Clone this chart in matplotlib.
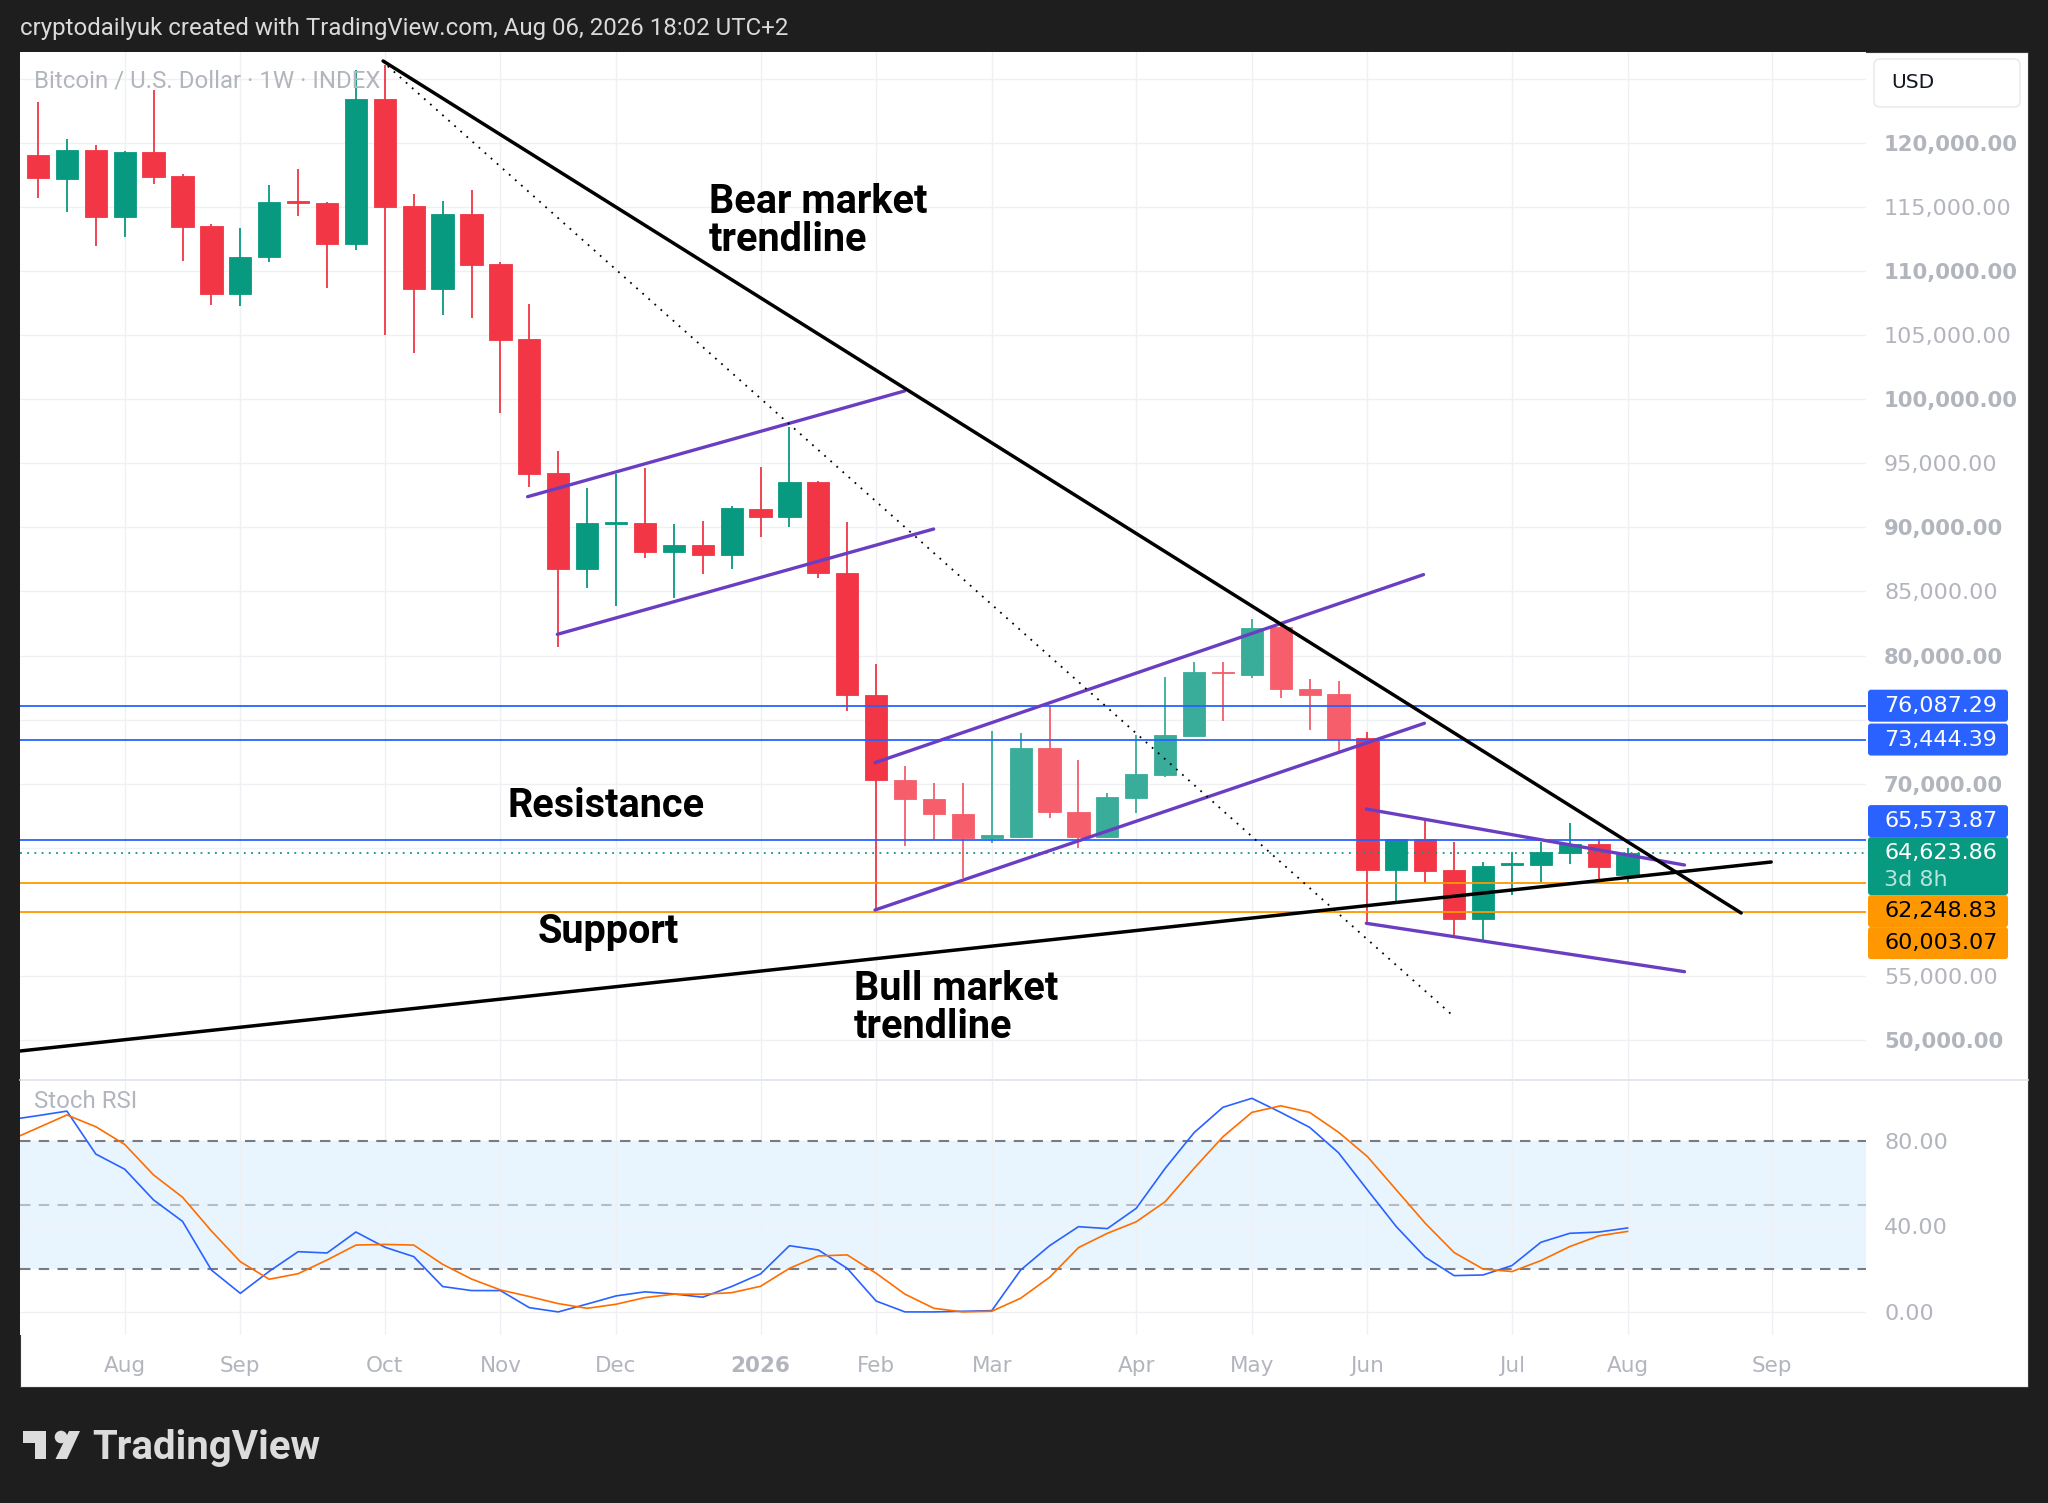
import matplotlib
matplotlib.use("Agg")
import matplotlib.pyplot as plt
import numpy as np
from matplotlib.patches import Rectangle, FancyBboxPatch, Circle, Polygon
from matplotlib.lines import Line2D
from matplotlib.transforms import IdentityTransform

# weekly BTC/USD candles, week 0 = 14 Jul 2025
opens = [119064, 117167, 119454, 114200, 119298, 117450, 113500, 108215, 111110, 115450,
         115300, 112140, 123430, 115080, 108630, 114490, 110560, 104700, 94220, 86780,
         90300, 90370, 88110, 88630, 87823, 91412, 90840, 93570, 86470, 76900,
         70292, 68784, 67614, 65740, 65870, 72815, 67822, 65870, 68912, 70681,
         73750, 78718, 78484, 82256, 77392, 76975, 73542, 63294, 65687, 63268,
         59418, 63658, 63658, 64620, 65323, 62878]
highs = [123176, 120288, 119820, 119350, 124110, 117580, 113655, 113340, 116722, 117970,
         115420, 125700, 126100, 116020, 115450, 116330, 110710, 107435, 95964, 93050,
         94144, 94664, 90268, 90528, 91698, 94740, 97862, 93600, 90450, 79343,
         71410, 70084, 70084, 74116, 73934, 76144, 71851, 69250, 73800, 78302,
         79498, 79498, 82828, 82386, 78172, 78042, 74010, 65700, 67170, 65480,
         63918, 64647, 65480, 66910, 65687, 64959]
lows = [115684, 114640, 111985, 112634, 116800, 110815, 107357, 107300, 110675, 114330,
        108705, 111650, 105015, 103585, 106580, 106370, 98960, 93130, 80644, 85300,
        83895, 87590, 84467, 86340, 86730, 89227, 90060, 86028, 75677, 60050,
        65168, 65610, 62640, 65350, 65800, 67350, 65012, 65740, 67742, 70550,
        73700, 74920, 78224, 76663, 74192, 72502, 59185, 60876, 62280, 58196,
        57806, 61318, 62228, 63736, 62540, 62280]
closes = [117245, 119454, 114200, 119298, 117375, 113470, 108215, 111140, 115370, 115300,
          112140, 123430, 115030, 108630, 114490, 110480, 104630, 94170, 86780, 90370,
          90420, 88110, 88630, 87823, 91490, 90788, 93570, 86470, 76900, 70292,
          68784, 67614, 65740, 65990, 72815, 67822, 65870, 68964, 70760, 73802,
          78692, 78614, 82150, 77366, 76923, 73490, 63294, 65687, 63216, 59418,
          63580, 63736, 64647, 65323, 63476, 64623.86]
faded_weeks = list(range(30, 46))

month_ticks = [3, 7, 12, 16, 20, 25, 29, 33, 38, 42, 46, 51, 55, 60]
month_labels = ["Aug", "Sep", "Oct", "Nov", "Dec", "2026", "Feb", "Mar",
                "Apr", "May", "Jun", "Jul", "Aug", "Sep"]

# Stoch RSI (K blue, D orange), week -1 .. 55
stoch_weeks = list(range(-1, 56))
stoch_k = [89.9, 91.9, 94.0, 73.9, 66.8, 52.4, 42.4, 19.6, 8.7, 19.0, 28.2, 27.6, 37.4, 30.3,
           25.9, 11.9, 10.0, 10.0, 2.0, 0.0, 3.7, 7.5, 9.4, 8.4, 6.9, 11.9, 17.8, 31.0,
           29.0, 20.4, 5.1, 0.0, 0.0, 0.3, 0.6, 19.6, 31.0, 39.9, 39.0, 48.5, 67.2, 83.9,
           95.8, 100.0, 93.4, 86.4, 74.5, 57.1, 39.9, 25.6, 17.0, 17.3, 21.7, 32.6, 36.8,
           37.4, 39.3]
stoch_d = [80.2, 86.2, 92.2, 86.7, 78.4, 64.1, 53.7, 37.9, 23.5, 15.3, 17.9, 24.3, 31.3, 31.6,
           31.3, 22.3, 15.4, 10.3, 7.2, 3.9, 1.7, 3.6, 6.7, 8.3, 8.3, 9.0, 12.0, 20.4,
           26.2, 26.7, 18.1, 8.3, 1.7, 0.0, 0.3, 6.4, 16.2, 30.1, 36.8, 42.2, 51.6, 67.2,
           82.0, 93.4, 96.5, 93.4, 84.1, 72.7, 57.1, 41.5, 27.8, 20.1, 18.9, 24.0, 30.6,
           35.6, 37.7]

resistance_levels = [76087.29, 73444.39, 65573.87]
support_levels = [62248.83, 60003.07]
last_price = 64623.86
countdown = "3d 8h"

# hand drawn lines as (week, price) end points
bear_trend = [(11.94, 126400), (58.93, 59910)]
bull_trend = [(-0.62, 49140), (59.97, 63890)]
dotted_trend = [(12.1, 126000), (48.93, 51950)]
channel_lines = [
    [(16.94, 92397), (29.98, 100646)],
    [(17.97, 81658), (30.99, 89876)],
    [(28.96, 71640), (47.94, 86318)],
    [(28.96, 60143), (47.97, 74714)],
    [(45.96, 68025), (56.97, 63655)],
    [(45.96, 59105), (56.97, 55330)],
]

W, H = 2048, 1503
UP, DOWN = "#089981", "#F23645"
UP_FADED, DOWN_FADED = "#39AD9A", "#F55E6A"
GRID = "#EEF0F4"
LABEL = "#B2B5BE"
BLUE, ORANGE, PURPLE = "#2962FF", "#FF9800", "#6A3EC2"

plt.rcParams["font.family"] = "DejaVu Sans"
PX = IdentityTransform()


def top(y):
    # pixel row from the top -> display y
    return H - y


fig = plt.figure(figsize=(W / 100, H / 100), dpi=100, facecolor="#1E1E1E")

# white chart panel
fig.patches.append(Rectangle((20, top(1387)), 2008, 1335, transform=PX,
                             facecolor="white", edgecolor="#3a3a3a", lw=0.8, zorder=-5))

ax = fig.add_axes([20 / W, 1 - 1079 / H, 1846 / W, 1027 / H])
sax = fig.add_axes([20 / W, 1 - 1335 / H, 1846 / W, 254 / H])

# ---- price pane ----
x = np.arange(len(opens))
o, c = np.array(opens, float), np.array(closes, float)
hi, lo = np.array(highs, float), np.array(lows, float)
rising = c >= o
colors = []
for i, r in enumerate(rising):
    if i in faded_weeks:
        colors.append(UP_FADED if r else DOWN_FADED)
    else:
        colors.append(UP if r else DOWN)

ax.vlines(x, lo, hi, colors=colors, lw=1.3, zorder=2)
ax.bar(x, np.maximum(np.abs(c - o), 120), bottom=np.minimum(o, c), width=0.77,
       color=colors, edgecolor=colors, lw=0.6, zorder=2)

for lvl in resistance_levels:
    ax.axhline(lvl, color=BLUE, lw=1.3, zorder=3)
for lvl in support_levels:
    ax.axhline(lvl, color=ORANGE, lw=1.3, zorder=3)
ax.axhline(last_price, color=UP, lw=1.3, ls=(0, (1, 3)), zorder=3)

for seg in channel_lines:
    (x0, y0), (x1, y1) = seg
    ax.plot([x0, x1], [y0, y1], color=PURPLE, lw=2.4, solid_capstyle="round", zorder=4)
for seg in (bear_trend, bull_trend):
    (x0, y0), (x1, y1) = seg
    ax.plot([x0, x1], [y0, y1], color="black", lw=2.5, solid_capstyle="round", zorder=5)
(x0, y0), (x1, y1) = dotted_trend
ax.plot([x0, x1], [y0, y1], color="black", lw=1.3, ls=(0, (1, 3.5)), zorder=5)

big = dict(family="Roboto", fontweight="bold", fontsize=28.5, color="black",
           va="center", ha="left", zorder=6)
ax.text(23.22, 115396, "Bear market", **big)
ax.text(23.22, 112430, "trendline", **big)
ax.text(16.23, 68260, "Resistance", **big)
ax.text(17.27, 58427, "Support", **big)
ax.text(28.24, 53980, "Bull market", **big)
ax.text(28.24, 51013, "trendline", **big)

ax.set_xlim(-0.623, 63.25)
ax.set_ylim(46955, 127102)
price_ticks = np.arange(50000, 125001, 5000)
ax.set_yticks(price_ticks)
ax.set_yticklabels([f"{v:,.2f}" for v in price_ticks])
ax.yaxis.tick_right()
ax.set_xticks(month_ticks)
ax.tick_params(axis="x", length=0, labelbottom=False)
ax.tick_params(axis="y", length=0, pad=13, labelsize=16, labelcolor=LABEL)
for lbl, v in zip(ax.get_yticklabels(), price_ticks):
    if v % 10000 == 0:
        lbl.set_fontweight("bold")
        lbl.set_fontsize(15.2)
ax.grid(True, color=GRID, lw=1.0)
ax.set_axisbelow(True)
for s in ax.spines.values():
    s.set_visible(False)

# ---- stoch rsi pane ----
sax.axhspan(20, 80, color="#E9F5FE", lw=0, zorder=0)
sax.axhline(80, color="#787B86", lw=1.5, ls=(0, (5, 4)), zorder=2)
sax.axhline(20, color="#787B86", lw=1.5, ls=(0, (5, 4)), zorder=2)
sax.axhline(50, color="#B8BBC3", lw=1.5, ls=(0, (5, 4)), zorder=2)
sax.plot(stoch_weeks, stoch_k, color=BLUE, lw=1.2, zorder=3)
sax.plot(stoch_weeks, stoch_d, color="#FF6D00", lw=1.2, zorder=3)
sax.set_xlim(-0.623, 63.25)
sax.set_ylim(-10.8, 108.1)
sax.set_yticks([0, 40, 80])
sax.set_yticklabels(["0.00", "40.00", "80.00"])
sax.yaxis.tick_right()
sax.set_xticks(month_ticks)
sax.set_xticklabels(month_labels)
sax.tick_params(axis="y", length=0, pad=13, labelsize=16, labelcolor=LABEL)
sax.tick_params(axis="x", length=0, pad=15, labelsize=15.5, labelcolor=LABEL)
for lbl in sax.get_xticklabels():
    if lbl.get_text() == "2026":
        lbl.set_fontweight("bold")
sax.grid(True, color=GRID, lw=1.0)
sax.set_axisbelow(True)
for s in sax.spines.values():
    s.set_visible(False)

# pane separator
fig.lines.append(Line2D([20, 2028], [top(1080), top(1080)], transform=PX,
                        color="#E0E3EB", lw=1.2, zorder=3))

# ---- price scale labels ----
fig.canvas.draw()


def row(price):
    return H - ax.transData.transform((0, price))[1]


covered = [(59, 108)]  # currency button rows


def price_box(yc, hgt, face, lines):
    fig.patches.append(FancyBboxPatch((1868, top(yc + hgt / 2)), 140, hgt, transform=PX,
                                      boxstyle="round,pad=0,rounding_size=3",
                                      facecolor=face, edgecolor="none", zorder=20))
    for text, dy, col in lines:
        fig.text(1884, top(dy), text, transform=PX, fontsize=16, color=col,
                 va="center", ha="left", zorder=21)
    covered.append((yc - hgt / 2, yc + hgt / 2))


box_h = 32
yl = row(last_price)
g_top, g_bot = yl - 15.5, yl - 15.5 + 58
price_box((g_top + g_bot) / 2, 58, UP,
          [(f"{last_price:,.2f}", yl, "white"), (countdown, yl + 27, "#B8E6DC")])

bound = g_top
for lvl in sorted([l for l in resistance_levels if l > last_price]):
    yc = row(lvl)
    if yc + box_h / 2 > bound:
        yc = bound - box_h / 2
    price_box(yc, box_h, BLUE, [(f"{lvl:,.2f}", yc, "white")])
    bound = yc - box_h / 2

bound = g_bot
for lvl in sorted(support_levels, reverse=True):
    yc = row(lvl)
    if yc - box_h / 2 < bound:
        yc = bound + box_h / 2
    price_box(yc, box_h, ORANGE, [(f"{lvl:,.2f}", yc, "black")])
    bound = yc + box_h / 2

# scale labels hidden behind the boxes are not drawn
for lbl, v in zip(ax.get_yticklabels(), price_ticks):
    r = row(v)
    if any(a - 9 < r < b + 9 for a, b in covered):
        lbl.set_visible(False)

# currency button
fig.patches.append(FancyBboxPatch((1874, top(107)), 146, 48, transform=PX,
                                  boxstyle="round,pad=0,rounding_size=6",
                                  facecolor="white", edgecolor="#E6E8EC", lw=1.0, zorder=20))
fig.text(1891, top(83), "USD", transform=PX, fontsize=14.5, color="#131722",
         va="center", ha="left", zorder=21)

# pane titles
fig.text(34, top(81), "Bitcoin / U.S. Dollar · 1W · INDEX", transform=PX,
         fontsize=17.3, color=LABEL, va="center", family="Roboto")
fig.text(34, top(1101), "Stoch RSI", transform=PX, fontsize=17.3, color=LABEL,
         va="center", family="Roboto")

# header and footer
fig.text(20, top(29), "cryptodailyuk created with TradingView.com, Aug 06, 2026 18:02 UTC+2",
         transform=PX, fontsize=17.3, color="#DADADA", va="center", family="Roboto")
logo = "#DCDCDC"
fig.patches.append(Polygon([(23, top(1431)), (46, top(1431)), (46, top(1459)), (35, top(1459)),
                            (35, top(1443)), (23, top(1443))], closed=True, transform=PX,
                           facecolor=logo, edgecolor="none"))
fig.patches.append(Circle((61, top(1437)), 6.3, transform=PX, facecolor=logo, edgecolor="none"))
fig.patches.append(Polygon([(69, top(1431)), (80, top(1431)), (67, top(1459)), (55.5, top(1459))],
                           closed=True, transform=PX, facecolor=logo, edgecolor="none"))
fig.text(92, top(1459), "TradingView", transform=PX, fontsize=29, color=logo,
         va="baseline", ha="left", family="Roboto", fontweight="bold")

fig.savefig("out.png", dpi=100, facecolor=fig.get_facecolor())
